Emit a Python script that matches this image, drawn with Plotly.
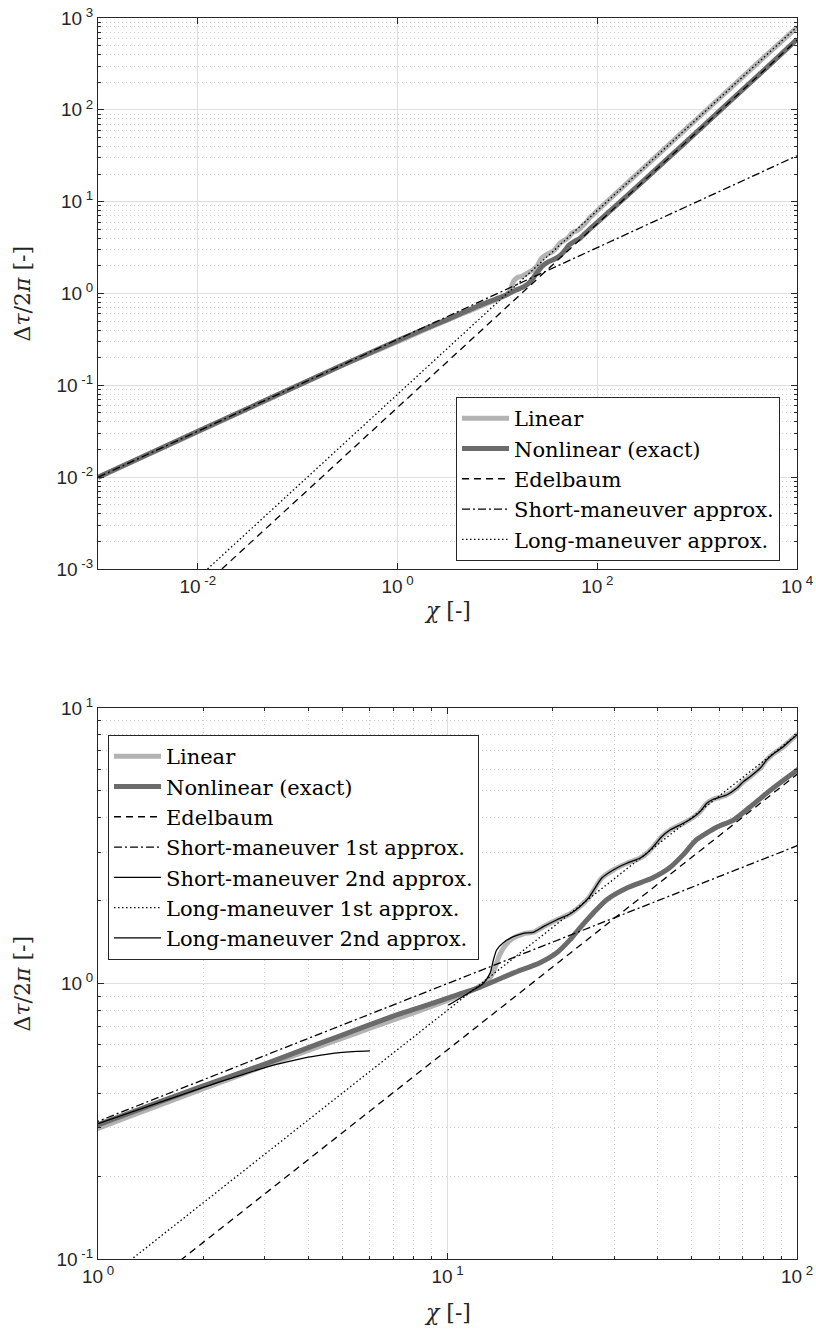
import plotly.graph_objects as go

# ---------------- data ----------------
chi_lin = [0.001, 0.01, 0.1, 0.3, 1, 1.5, 2, 3, 4, 5, 6, 7, 8, 9, 10, 10.9, 11.9, 12.7, 13.3,
           13.7, 14.1, 14.6, 15.4, 16.5, 17.6, 18.8, 20.5, 22.4, 23.9, 25.3, 26.4, 27.6, 29.8,
           32.6, 35.5, 37.2, 38.8, 41.0, 43.3, 47.3, 50.5, 52.8, 55.2, 57.6, 62.9, 67.2, 70.2,
           73.4, 78.4, 81.9, 86, 91, 96, 100, 200, 500, 1000, 2000, 5000, 10000]
lin = [0.0099, 0.0313, 0.0988, 0.171, 0.298, 0.362, 0.415, 0.502, 0.572, 0.633, 0.688, 0.738,
       0.783, 0.826, 0.868, 0.905, 0.95, 1.0, 1.06, 1.15, 1.27, 1.37, 1.46, 1.515, 1.535, 1.608,
       1.70, 1.788, 1.90, 2.04, 2.216, 2.409, 2.582, 2.732, 2.848, 2.97, 3.138, 3.411, 3.607,
       3.815, 4.011, 4.205, 4.51, 4.663, 4.833, 5.11, 5.40, 5.63, 6.04, 6.48, 6.85, 7.2, 7.65,
       8.0, 16.0, 40.0, 80.0, 160, 400, 790]

chi_non = [0.001, 0.01, 0.1, 0.3, 1, 1.5, 2, 3, 4, 5, 6, 7, 8, 9, 10, 12.4, 15.4, 18.4, 20.5,
           22.4, 23.9, 26.1, 28.5, 32.6, 38.7, 43.2, 47.2, 51.5, 59.1, 65.8, 73.4, 82, 89.5,
           98.5, 100, 200, 500, 1000, 2000, 5000, 10000]
non = [0.0100, 0.0316, 0.0995, 0.172, 0.307, 0.372, 0.425, 0.51, 0.585, 0.65, 0.709, 0.762,
       0.805, 0.845, 0.885, 0.97, 1.09, 1.19, 1.29, 1.44, 1.59, 1.80, 2.01, 2.22, 2.42, 2.63,
       2.93, 3.32, 3.70, 3.92, 4.37, 4.91, 5.35, 5.86, 5.95, 11.7, 29.0, 58.0, 116, 290, 585]

chi_edel = [0.0174, 10000]
edel = [0.001, 574]

chi_short1 = [0.001, 10000]
short1 = [0.01, 31.6]

chi_long1 = [0.0125, 10000]
long1 = [0.001, 800]

chi_short2 = [1, 1.5, 2, 2.5, 3, 3.5, 4, 4.5, 5, 5.5, 6]
short2 = [0.31, 0.37, 0.42, 0.46, 0.495, 0.52, 0.54, 0.553, 0.562, 0.567, 0.569]

chi_long2 = [10.05, 10.86, 11.86, 12.66, 13.23, 13.53, 13.82, 14.44, 15.43, 16.48, 17.6, 18.8,
             20.5, 22.4, 23.9, 25.3, 26.4, 27.6, 29.8, 32.6, 35.5, 37.2, 38.8, 41.0, 43.3,
             47.3, 50.5, 52.8, 55.2, 57.6, 62.9, 67.2, 70.2, 73.4, 78.4, 81.9, 86, 91, 96, 100]
long2 = [0.835, 0.884, 0.947, 1.00, 1.089, 1.217, 1.323, 1.406, 1.479, 1.521, 1.534, 1.608,
         1.70, 1.788, 1.90, 2.04, 2.216, 2.409, 2.582, 2.732, 2.848, 2.97, 3.138, 3.411, 3.607,
         3.815, 4.011, 4.205, 4.51, 4.663, 4.833, 5.11, 5.40, 5.63, 6.04, 6.48, 6.85, 7.2,
         7.65, 8.0]

top_xticks = [1e-2, 1e0, 1e2, 1e4]
top_xlabels = ["10<sup> -2</sup>", "10<sup> 0</sup>", "10<sup> 2</sup>", "10<sup> 4</sup>"]
top_yticks = [1e-3, 1e-2, 1e-1, 1e0, 1e1, 1e2, 1e3]
top_ylabels = ["10<sup> -3</sup>", "10<sup> -2</sup>", "10<sup> -1</sup>", "10<sup> 0</sup>",
               "10<sup> 1</sup>", "10<sup> 2</sup>", "10<sup> 3</sup>"]
bot_xticks = [1e0, 1e1, 1e2]
bot_xlabels = ["10<sup> 0</sup>", "10<sup> 1</sup>", "10<sup> 2</sup>"]
bot_yticks = [1e-1, 1e0, 1e1]
bot_ylabels = ["10<sup> -1</sup>", "10<sup> 0</sup>", "10<sup> 1</sup>"]

# ---------------- styling ----------------
W, H = 816, 1333
L, R = 98, 797
TOP_T, TOP_B = 18, 569
BOT_T, BOT_B = 708, 1259

C_LIN = "#b3b3b3"
C_NON = "#6b6b6b"
AX = "#262626"
GRID = "#e0e0e0"
MGRID = "#d0d0d0"
SERIF = "DejaVu Serif"
SANS = "Liberation Sans"

DASH = "7px,5px"
DASHDOT = "8px,3px,2px,3px"
DOT = "1.5px,2.5px"


def px_x(p):
    return p / W


def px_y(p):
    return 1 - p / H


fig = go.Figure()


def add(x, y, name, color, width, dash, xa, ya, leg, shape="linear"):
    fig.add_trace(go.Scatter(
        x=x, y=y, mode="lines", name=name, xaxis=xa, yaxis=ya, legend=leg,
        line=dict(color=color, width=width, dash=dash, shape=shape, smoothing=0.6),
        hoverinfo="skip"))


# top subplot
add(chi_lin, lin, "Linear", C_LIN, 5, "solid", "x", "y", "legend", "spline")
add(chi_non, non, "Nonlinear (exact)", C_NON, 5, "solid", "x", "y", "legend", "spline")
add(chi_edel, edel, "Edelbaum", "black", 1.3, DASH, "x", "y", "legend")
add(chi_short1, short1, "Short-maneuver approx.", "black", 1.3, DASHDOT, "x", "y", "legend")
add(chi_long1, long1, "Long-maneuver approx.", "black", 1.3, DOT, "x", "y", "legend")

# bottom subplot
add(chi_lin, lin, "Linear", C_LIN, 5, "solid", "x2", "y2", "legend2", "spline")
add(chi_non, non, "Nonlinear (exact)", C_NON, 5, "solid", "x2", "y2", "legend2", "spline")
add(chi_edel, edel, "Edelbaum", "black", 1.3, DASH, "x2", "y2", "legend2")
add(chi_short1, short1, "Short-maneuver 1st approx.", "black", 1.3, DASHDOT, "x2", "y2", "legend2")
add(chi_short2, short2, "Short-maneuver 2nd approx.", "black", 1.3, "solid", "x2", "y2", "legend2", "spline")
add(chi_long1, long1, "Long-maneuver 1st approx.", "black", 1.3, DOT, "x2", "y2", "legend2")
add(chi_long2, long2, "Long-maneuver 2nd approx.", "black", 1.3, "solid", "x2", "y2", "legend2", "spline")

tickfont = dict(family=SANS, size=19, color=AX)


def axis(domain, rng, tv, tt, anchor, minor_on):
    d = dict(
        type="log", domain=domain, range=rng, anchor=anchor,
        tickmode="array", tickvals=tv, ticktext=tt, tickfont=tickfont,
        showline=True, linecolor=AX, linewidth=1, mirror="allticks",
        ticks="inside", ticklen=6, tickcolor=AX, tickwidth=1,
        showgrid=True, gridcolor=GRID, gridwidth=1, zeroline=False,
        automargin=False,
    )
    if minor_on:
        d["minor"] = dict(dtick="D1", ticks="inside", ticklen=3, tickcolor=AX,
                          showgrid=True, gridcolor=MGRID, griddash="1px,3px", gridwidth=1)
    return d


legfont = dict(family=SERIF, size=21, color="black")
titlefont = dict(family=SERIF, size=22, color=AX)

fig.update_layout(
    width=W, height=H, margin=dict(l=0, r=0, t=0, b=0),
    paper_bgcolor="white", plot_bgcolor="white",
    xaxis=axis([px_x(L), px_x(R)], [-3, 4], top_xticks, top_xlabels, "y", False),
    yaxis=axis([px_y(TOP_B), px_y(TOP_T)], [-3, 3], top_yticks, top_ylabels, "x", True),
    xaxis2=axis([px_x(L), px_x(R)], [0, 2], bot_xticks, bot_xlabels, "y2", True),
    yaxis2=axis([px_y(BOT_B), px_y(BOT_T)], [-1, 1], bot_yticks, bot_ylabels, "x2", True),
    legend=dict(
        x=px_x(456), y=px_y(397), xanchor="left", yanchor="top",
        bgcolor="white", bordercolor=AX, borderwidth=1,
        font=legfont, itemwidth=47, tracegroupgap=0,
    ),
    legend2=dict(
        x=px_x(108), y=px_y(735), xanchor="left", yanchor="top",
        bgcolor="white", bordercolor=AX, borderwidth=1,
        font=legfont, itemwidth=47, tracegroupgap=0,
    ),
    annotations=[
        dict(text="<i>χ</i> [-]", x=px_x((L + R) / 2), y=px_y(610), xref="paper", yref="paper",
             showarrow=False, xanchor="center", yanchor="middle", font=titlefont),
        dict(text="<i>χ</i> [-]", x=px_x((L + R) / 2), y=px_y(1312), xref="paper", yref="paper",
             showarrow=False, xanchor="center", yanchor="middle", font=titlefont),
        dict(text="Δ<i>τ</i>/2<i>π</i> [-]", x=px_x(22), y=px_y((TOP_T + TOP_B) / 2),
             xref="paper", yref="paper", showarrow=False, textangle=-90,
             xanchor="center", yanchor="middle", font=titlefont),
        dict(text="Δ<i>τ</i>/2<i>π</i> [-]", x=px_x(22), y=px_y((BOT_T + BOT_B) / 2),
             xref="paper", yref="paper", showarrow=False, textangle=-90,
             xanchor="center", yanchor="middle", font=titlefont),
    ],
)

fig.write_html("out.html")
